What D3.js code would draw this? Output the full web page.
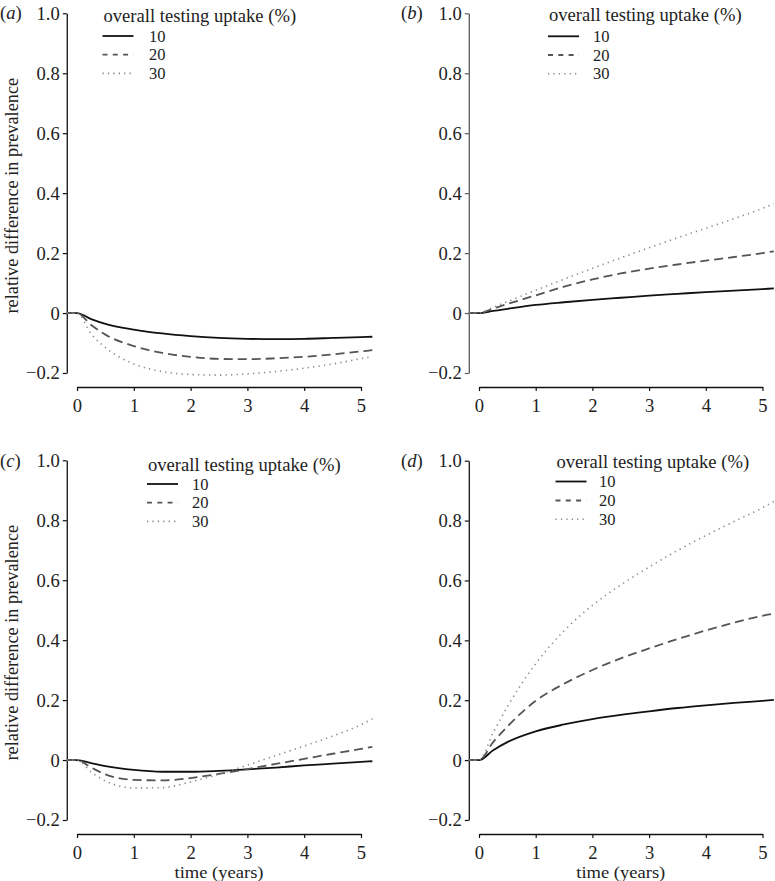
<!DOCTYPE html>
<html><head><meta charset="utf-8">
<script src="https://cdn.jsdelivr.net/npm/d3@7"></script>
<style>
html,body{margin:0;padding:0;background:#fff;}
svg{display:block;font-family:"Liberation Serif","Times New Roman",serif;}
</style></head>
<body><svg id="chart" width="775" height="881"></svg>
<script>
// ---- data ----
const times = [-0.18, 0, 0.25, 0.5, 1, 1.5, 2, 2.5, 3, 3.5, 4, 4.5, 5, 5.2];
const uptakeLabels = ["10", "20", "30"];
const xTicks = [0, 1, 2, 3, 4, 5];
const yTicks = [-0.2, 0, 0.2, 0.4, 0.6, 0.8, 1.0];
const panelLabels = ["a", "b", "c", "d"];

const a10 = [0, 0, -0.02, -0.036, -0.055, -0.068, -0.077, -0.083, -0.086, -0.087, -0.086, -0.083, -0.080, -0.079];
const a20 = [0, 0, -0.04, -0.072, -0.11, -0.133, -0.146, -0.153, -0.154, -0.151, -0.146, -0.138, -0.128, -0.124];
const a30 = [0, 0, -0.07, -0.115, -0.17, -0.195, -0.205, -0.207, -0.203, -0.195, -0.184, -0.17, -0.152, -0.145];

const b10 = [0, 0, 0.007, 0.014, 0.027, 0.036, 0.044, 0.051, 0.058, 0.064, 0.070, 0.075, 0.080, 0.082];
const b20 = [0, 0, 0.015, 0.030, 0.059, 0.088, 0.112, 0.132, 0.148, 0.162, 0.175, 0.187, 0.200, 0.206];
const b30 = [0, 0, 0.019, 0.038, 0.076, 0.113, 0.149, 0.184, 0.218, 0.251, 0.283, 0.315, 0.349, 0.365];

const c10 = [0, 0, -0.010, -0.020, -0.033, -0.039, -0.039, -0.036, -0.031, -0.025, -0.018, -0.012, -0.006, -0.004];
const c20 = [0, 0, -0.025, -0.048, -0.066, -0.068, -0.060, -0.046, -0.030, -0.013, 0.004, 0.021, 0.037, 0.044];
const c30 = [0, 0, -0.040, -0.070, -0.093, -0.092, -0.073, -0.047, -0.017, 0.015, 0.047, 0.080, 0.118, 0.138];

const d10 = [0, 0, 0.033, 0.060, 0.096, 0.119, 0.137, 0.151, 0.163, 0.174, 0.183, 0.191, 0.198, 0.201];
const d20 = [0, 0, 0.060, 0.112, 0.198, 0.255, 0.301, 0.340, 0.373, 0.404, 0.433, 0.459, 0.482, 0.489];
const d30 = [0, 0, 0.092, 0.178, 0.322, 0.432, 0.517, 0.585, 0.645, 0.700, 0.750, 0.797, 0.843, 0.864];

const panelData = [[a10, a20, a30], [b10, b20, b30], [c10, c20, c30], [d10, d20, d30]];

// ---- layout / style ----
const layouts = [
  {x0: 77, x5: 361, yTop: 13.3, yBot: 373, xAxisY: 387, ylab: true,  xlab: false, labX: 0,   labY: 19,  legX: 102.5, numX: 149, legY: 17.3, rows: [36, 54.7, 73.4], axisColor: "#111"},
  {x0: 479, x5: 762.5, yTop: 13.3, yBot: 373, xAxisY: 387, ylab: false, xlab: false, labX: 401, labY: 19,  legX: 548, numX: 593, legY: 16.7, rows: [36.3, 55, 73.7], axisColor: "#5a5a5a"},
  {x0: 77, x5: 361, yTop: 460.3, yBot: 820, xAxisY: 834, ylab: true,  xlab: true,  labX: 0,   labY: 467, legX: 147, numX: 192, legY: 466, rows: [484, 502.7, 521.4], axisColor: "#111"},
  {x0: 479, x5: 762.5, yTop: 460.7, yBot: 820, xAxisY: 834, ylab: false, xlab: true,  labX: 401, labY: 467, legX: 555.5, numX: 599, legY: 463, rows: [481.5, 500.5, 519.3], axisColor: "#111"}
];
const styles = [
  {color: "#111", dash: null, w: 1.8},
  {color: "#555", dash: "9,5", w: 1.8},
  {color: "#8a8a8a", dash: "1.3,4.2", w: 1.6}
];
const legDash = [null, "5,5.3", "1.3,4.1"];
const FS = 18.6;
const FS_NUM = 16.5;
const TXT = "#222";

const svg = d3.select("#chart");

function addText(parent, x, y, str, size) {
  return parent.append("text")
    .attr("x", x).attr("y", y)
    .attr("font-size", size || FS).attr("fill", TXT).text(str);
}

layouts.forEach((L, pi) => {
  const g = svg.append("g");
  const x = d3.scaleLinear().domain([0, 5]).range([L.x0, L.x5]);
  const y = d3.scaleLinear().domain([-0.2, 1.0]).range([L.yBot, L.yTop]);
  const yAxisX = x(-0.18);

  // y axis
  const ya = g.append("g").attr("transform", `translate(${yAxisX},0)`)
    .call(d3.axisLeft(y).tickValues(yTicks).tickSize(4).tickSizeOuter(0).tickPadding(3)
      .tickFormat(v => v === 0 ? "0" : d3.format(".1f")(v)));
  ya.select(".domain").attr("stroke", L.axisColor).attr("stroke-width", 1.3);
  ya.selectAll(".tick line").attr("stroke", L.axisColor).attr("stroke-width", 1.2);
  ya.selectAll(".tick text").attr("font-size", FS).attr("fill", TXT)
    .attr("font-family", "Liberation Serif").attr("dy", "0.32em");

  // x axis
  const xa = g.append("g").attr("transform", `translate(0,${L.xAxisY})`)
    .call(d3.axisBottom(x).tickValues(xTicks).tickSize(4).tickSizeOuter(0).tickPadding(9)
      .tickFormat(d3.format("d")));
  xa.select(".domain").attr("stroke", "#111").attr("stroke-width", 1.3);
  xa.selectAll(".tick line").attr("stroke", "#111").attr("stroke-width", 1.2);
  xa.selectAll(".tick text").attr("font-size", FS).attr("fill", TXT)
    .attr("font-family", "Liberation Serif")
    .attr("y", 24.5).attr("dy", null);

  // lines
  const line = d3.line().x((d, i) => x(times[i])).y(d => y(d)).curve(d3.curveMonotoneX);
  panelData[pi].forEach((ser, si) => {
    const s = styles[si];
    g.append("path").datum(ser).attr("d", line)
      .attr("fill", "none").attr("stroke", s.color).attr("stroke-width", s.w)
      .attr("stroke-dasharray", s.dash);
  });

  // panel label
  const pl = addText(g, L.labX, L.labY, "");
  pl.append("tspan").text("(");
  pl.append("tspan").attr("font-style", "italic").text(panelLabels[pi]);
  pl.append("tspan").text(")");

  // legend
  addText(g, L.legX + 1, L.legY + 4.5, "overall testing uptake (%)");
  uptakeLabels.forEach((lab, si) => {
    const cy = L.rows[si];
    g.append("line").attr("x1", L.legX).attr("x2", L.legX + 31).attr("y1", cy).attr("y2", cy)
      .attr("stroke", styles[si].color).attr("stroke-width", styles[si].w)
      .attr("stroke-dasharray", legDash[si]);
    addText(g, L.numX, cy + 5.5, lab, FS_NUM);
  });

  // y label
  if (L.ylab) {
    const cy = (y(-0.2) + y(1.0)) / 2 + 2.5;
    g.append("text").attr("transform", `translate(17.5,${cy}) rotate(-90)`)
      .attr("text-anchor", "middle").attr("font-size", 18.3).attr("fill", TXT)
      .text("relative difference in prevalence");
  }
  // x label
  if (L.xlab) {
    g.append("text")
      .attr("transform", `translate(${(L.x0 + L.x5) / 2},877.5) scale(1.06,1)`)
      .attr("text-anchor", "middle").attr("font-size", 17.5).attr("fill", TXT)
      .text("time (years)");
  }
});
</script>
</body></html>
